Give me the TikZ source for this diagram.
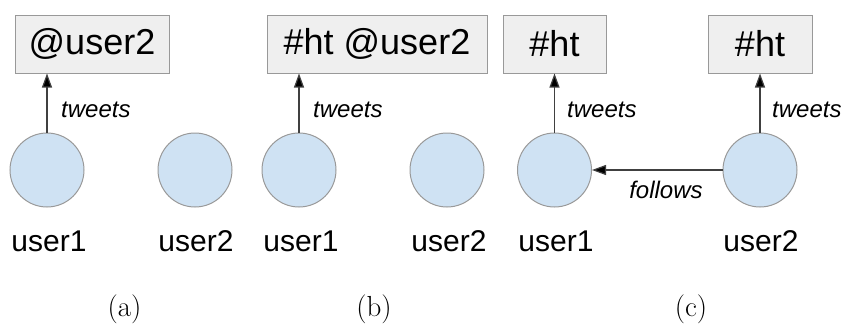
\documentclass[tikz,border=0pt]{standalone}
\usepackage{fontspec}
\newfontfamily\arialfont{Liberation Sans}
\usetikzlibrary{arrows.meta}
\definecolor{boxfill}{HTML}{EFEFEF}
\definecolor{boxline}{HTML}{999999}
\definecolor{userfill}{HTML}{CFE2F3}
\definecolor{edgeline}{HTML}{404040}
\tikzset{
  tagbox/.style={draw=boxline, line width=1pt, fill=boxfill, rectangle,
    minimum height=58pt, inner sep=0pt,
    font=\arialfont\fontsize{36}{40}\selectfont},
  user/.style={draw=boxline, line width=1pt, fill=userfill, circle,
    minimum size=74pt, inner sep=0pt},
  username/.style={font=\arialfont\fontsize{30}{33}\selectfont, inner sep=0pt},
  rel/.style={font=\arialfont\itshape\fontsize{24}{28}\selectfont, inner sep=0pt},
  arr/.style={draw=edgeline, line width=1.2pt,
    -{Triangle[width=10pt,length=14pt,fill=black]}},
  caption/.style={font=\fontsize{29}{32}\selectfont, inner sep=0pt}
}
\begin{document}
\begin{tikzpicture}[x=1pt,y=-1pt]
\useasboundingbox (0,0) rectangle (844,324);
\fill[white] (0,0) rectangle (844,324);

% (a) user1 tweets @user2
\node[tagbox, minimum width=154pt] (ta) at (92,44) {@user2};
\node[user] (a1) at (47,170) {};
\node[user] (a2) at (195,170) {};
\node[username] (la1) at (49,241) {user1};
\node[username] (la2) at (196,241) {user2};
\draw[arr] (a1.north) -- (a1.north |- ta.south);
\node[rel, anchor=west] (wa) at (61,110) {tweets};
\node[caption] (capa) at (124.5,309) {(a)};

% (b) user1 tweets #ht @user2
\node[tagbox, minimum width=220pt] (tb) at (377,44) {\#ht @user2};
\node[user] (b1) at (299,170) {};
\node[user] (b2) at (447,170) {};
\node[username] (lb1) at (301,241) {user1};
\node[username] (lb2) at (449,241) {user2};
\draw[arr] (b1.north) -- (b1.north |- tb.south);
\node[rel, anchor=west] (wb) at (313,110) {tweets};
\node[caption] (capb) at (374,309) {(b)};

% (c) user2 follows user1, both tweet #ht
\node[tagbox, minimum width=103pt] (tc1) at (554.5,44) {\#ht};
\node[tagbox, minimum width=104pt] (tc2) at (760,44) {\#ht};
\node[user] (c1) at (554.5,170) {};
\node[user] (c2) at (760,170) {};
\node[username] (lc1) at (556,241) {user1};
\node[username] (lc2) at (761,241) {user2};
\draw[arr] (c1.north) -- (c1.north |- tc1.south);
\draw[arr] (c2.north) -- (c2.north |- tc2.south);
\draw[arr] (c2.west) -- (c1.east);
\node[rel, anchor=west] (wc1) at (567,110) {tweets};
\node[rel, anchor=west] (wc2) at (772,110) {tweets};
\node[rel] (fc) at (666,190) {follows};
\node[caption] (capc) at (691,309) {(c)};
\end{tikzpicture}
\end{document}
